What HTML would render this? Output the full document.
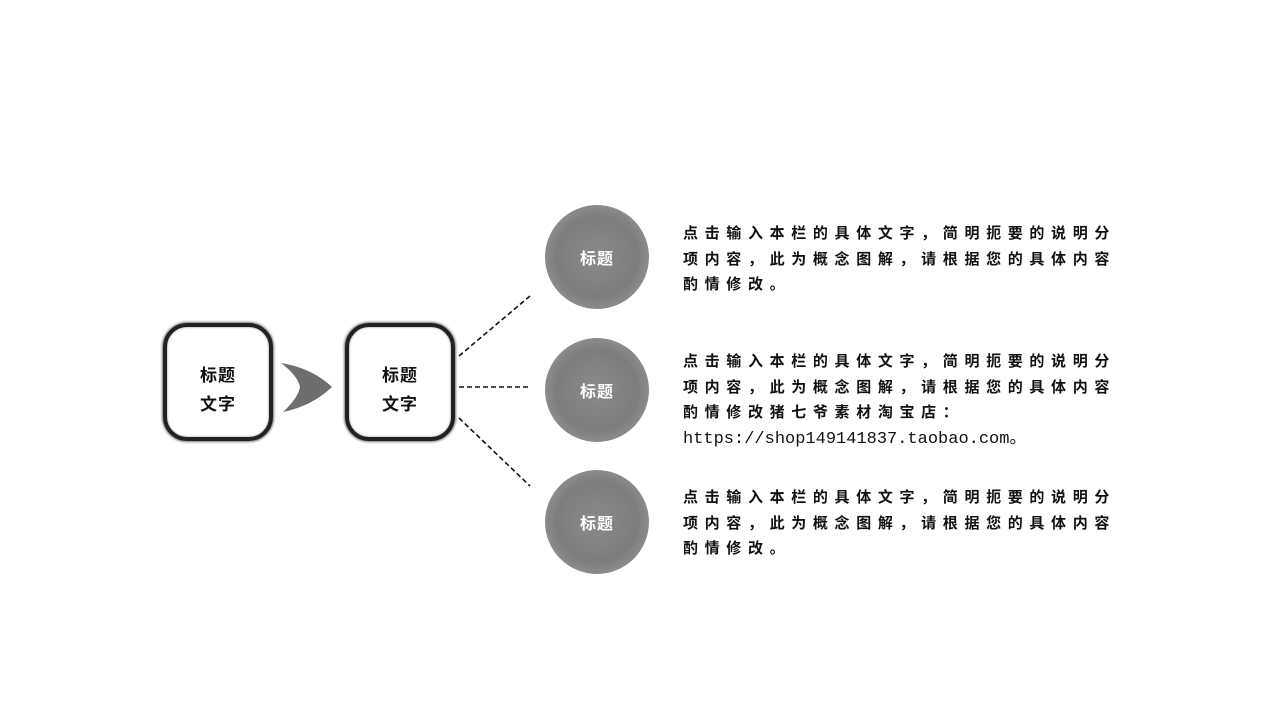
<!DOCTYPE html>
<html><head><meta charset="utf-8"><style>
body{margin:0;width:1280px;height:720px;background:#fff;position:relative;overflow:hidden;font-family:"Liberation Sans","Noto Sans CJK SC",sans-serif}
.box{position:absolute;width:102px;border:4px solid #222;border-radius:24px;box-shadow:0 0 2px 1px #777, inset 0 0 2px #888;display:flex;align-items:center;justify-content:center;text-align:center;font-weight:bold;font-size:17px;line-height:29px;color:#111;letter-spacing:1px;padding-top:16px;box-sizing:content-box;height:94px}
.c{position:absolute;width:104px;height:104px;border-radius:50%;background:radial-gradient(circle at 50% 50%,#8a8a8a 0%,#7d7d7d 55%,#999 85%,#c8c8c8 100%);color:#fff;font-weight:bold;font-size:16px;display:flex;align-items:center;justify-content:center;letter-spacing:1px}
.t{position:absolute;left:683px;font-size:15px;font-weight:bold;line-height:25.5px;color:#111;letter-spacing:6.65px;white-space:nowrap}
.u{font-family:"Liberation Mono",monospace;font-weight:normal;font-size:17px;letter-spacing:0}
</style></head><body>
<div class="box" style="left:163px;top:323px">标题<br>文字</div>
<div class="box" style="left:345px;top:323px">标题<br>文字</div>
<svg style="position:absolute;left:0;top:0" width="1280" height="720">
<path d="M281 363 Q312 368 332 387 Q312 406 283 412 Q298 398 300 387 Q298 376 281 363Z" fill="#555" opacity="0.85"/>
<g stroke="#111" stroke-width="1.6" stroke-dasharray="5,3" fill="none">
<line x1="459" y1="356" x2="530" y2="296"/>
<line x1="459" y1="387" x2="530" y2="387"/>
<line x1="459" y1="418" x2="530" y2="486"/>
</g></svg>
<div class="c" style="left:545px;top:205px">标题</div>
<div class="c" style="left:545px;top:338px">标题</div>
<div class="c" style="left:545px;top:470px">标题</div>
<div class="t" style="top:221px">点击输入本栏的具体文字，简明扼要的说明分<br>项内容，此为概念图解，请根据您的具体内容<br>酌情修改。</div>
<div class="t" style="top:349px">点击输入本栏的具体文字，简明扼要的说明分<br>项内容，此为概念图解，请根据您的具体内容<br>酌情修改猪七爷素材淘宝店：<br><span class="u">https://shop149141837.taobao.com。</span></div>
<div class="t" style="top:485px">点击输入本栏的具体文字，简明扼要的说明分<br>项内容，此为概念图解，请根据您的具体内容<br>酌情修改。</div>
</body></html>
